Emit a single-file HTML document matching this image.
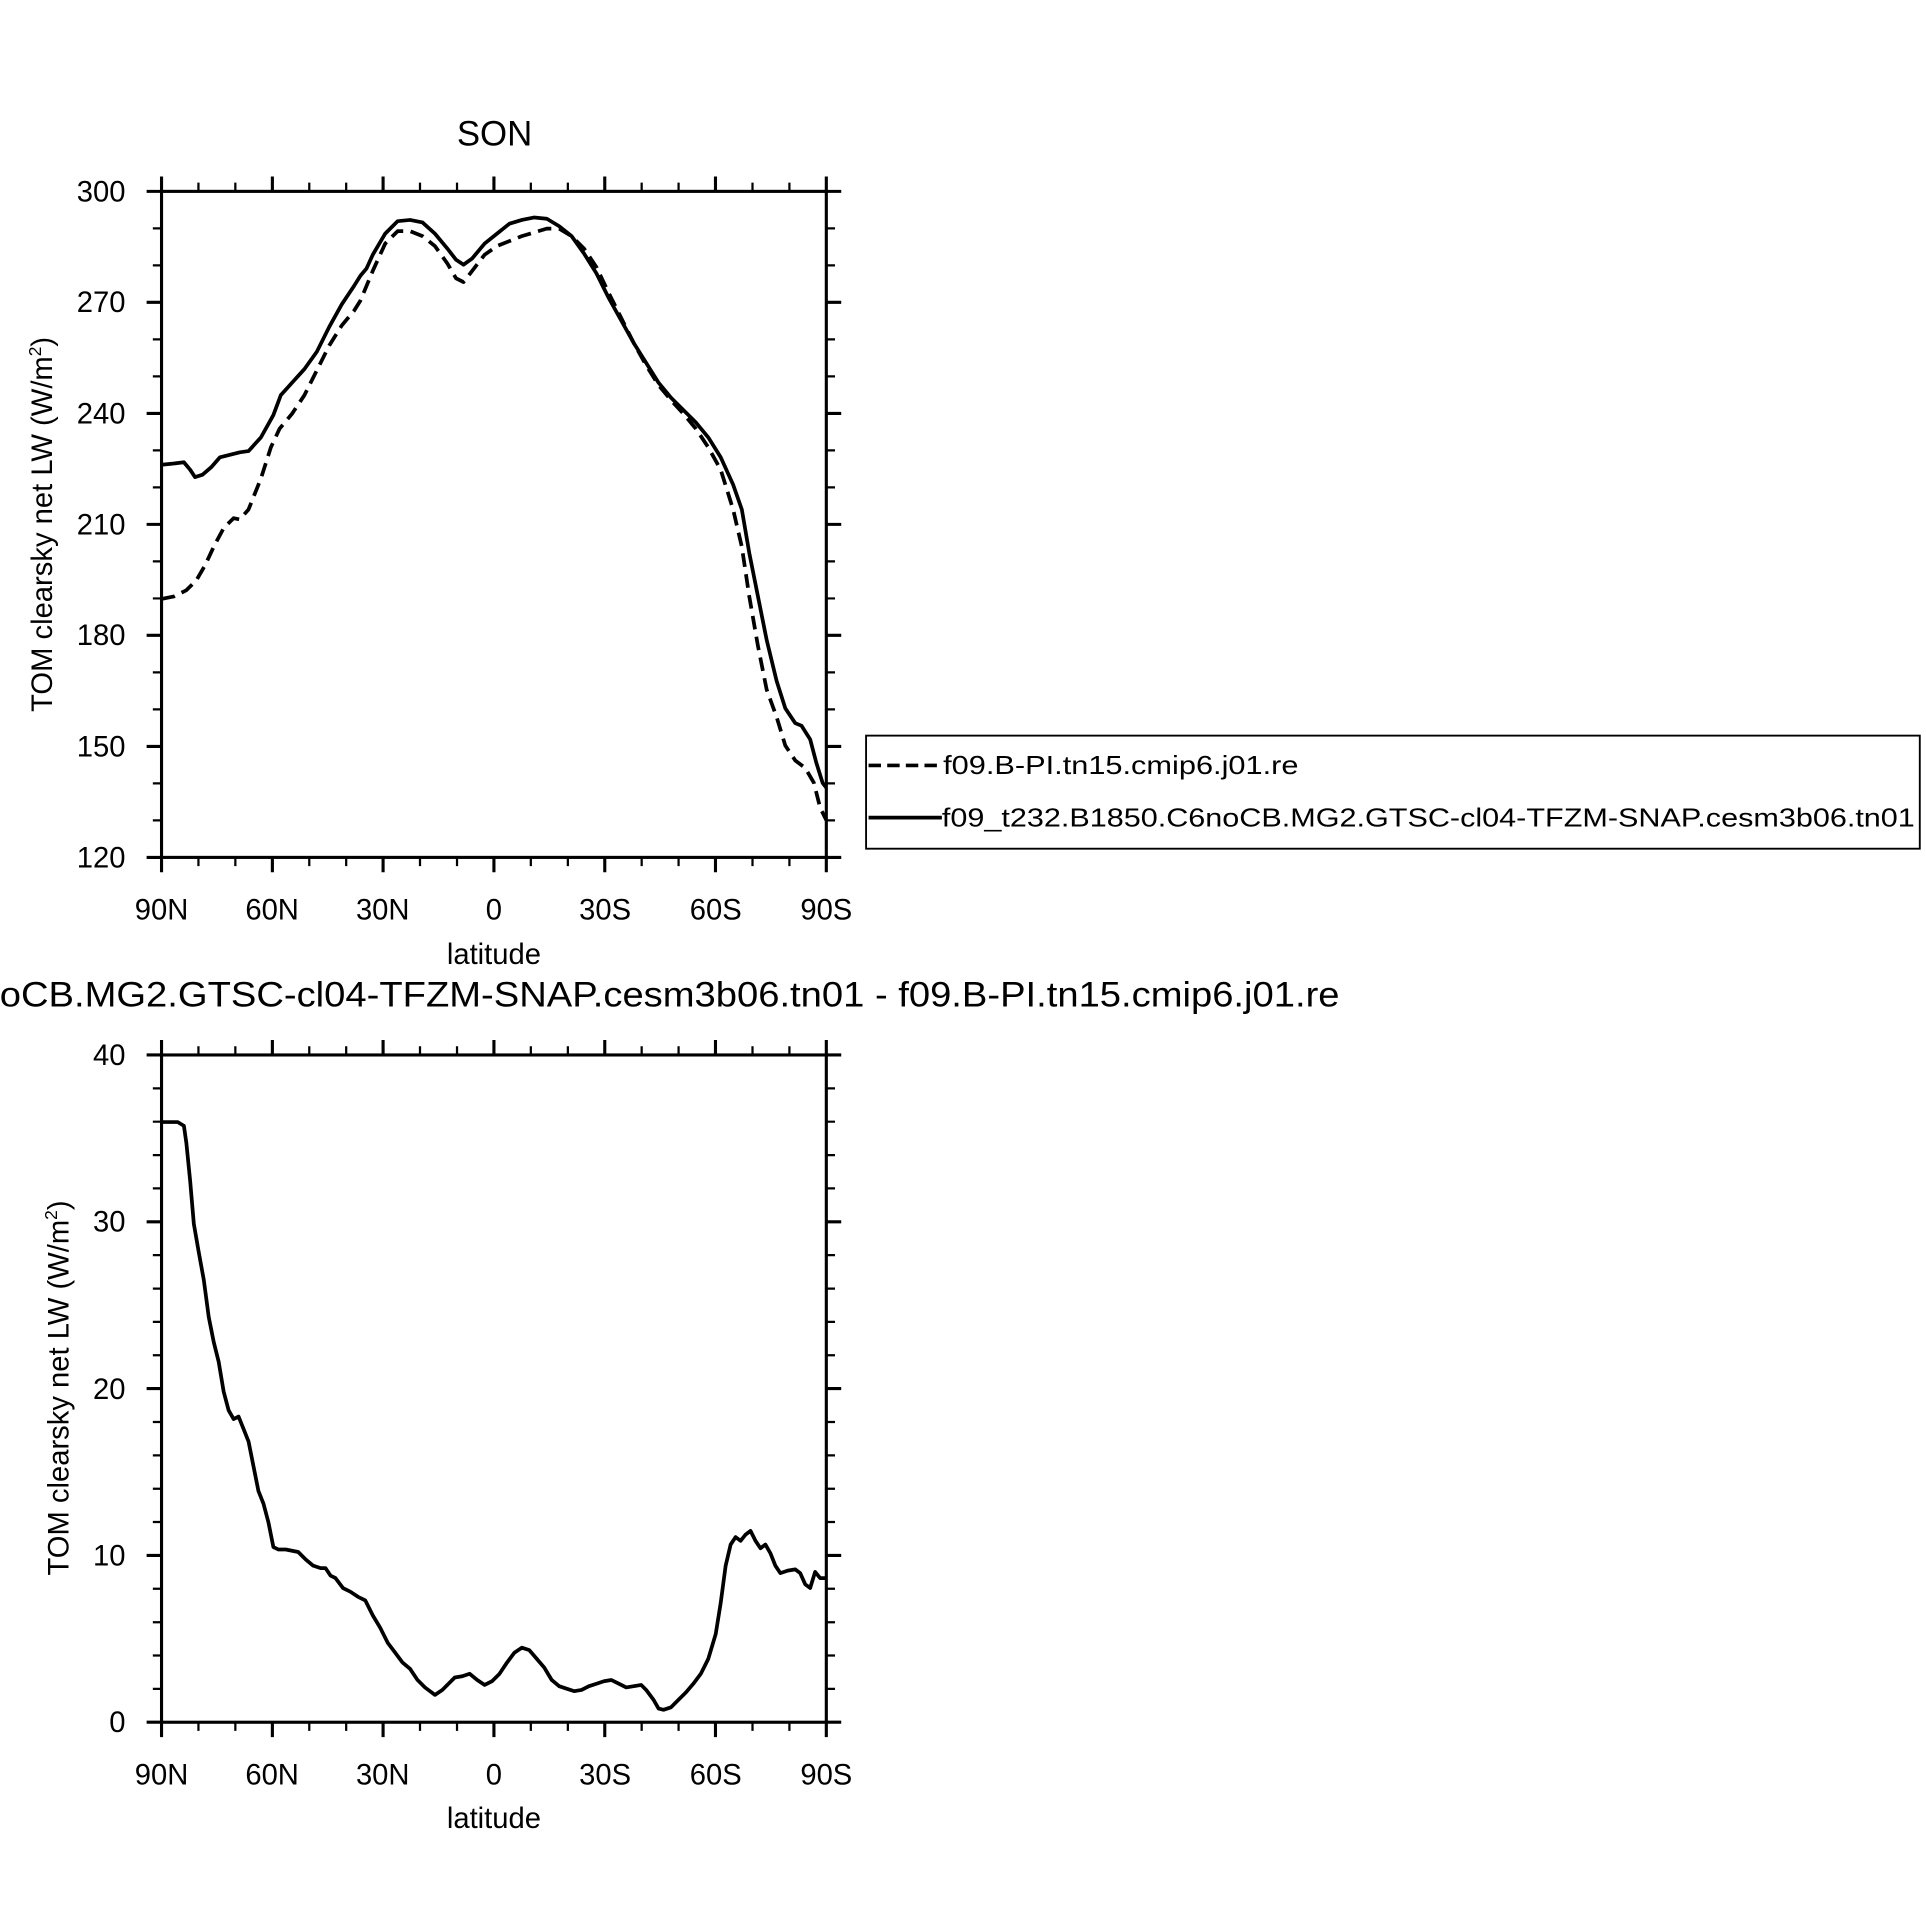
<!DOCTYPE html>
<html><head><meta charset="utf-8"><style>html,body{margin:0;padding:0;background:#fff}svg{display:block}</style></head>
<body>
<svg width="1926" height="1931" viewBox="0 0 1550 1554" xmlns="http://www.w3.org/2000/svg" font-family="Liberation Sans, sans-serif">
<rect width="1550" height="1554" fill="#fff"/>
<g id="ax1" stroke="#000" stroke-width="2.5" fill="none">
<rect x="130" y="154" width="535" height="536"/>
<path d="M130,154v-12M219.2,154v-12M308.3,154v-12M397.5,154v-12M486.7,154v-12M575.8,154v-12M665,154v-12
M130,690v12M219.2,690v12M308.3,690v12M397.5,690v12M486.7,690v12M575.8,690v12M665,690v12
M130,154h-12M130,243.3h-12M130,332.7h-12M130,422h-12M130,511.3h-12M130,600.7h-12M130,690h-12
M665,154h12M665,243.3h12M665,332.7h12M665,422h12M665,511.3h12M665,600.7h12M665,690h12"/>
<path stroke-width="1.8" d="M159.7,154v-7M189.4,154v-7M248.9,154v-7M278.6,154v-7M338,154v-7M367.8,154v-7M427.2,154v-7M457,154v-7M516.4,154v-7M546.1,154v-7M605.6,154v-7M635.3,154v-7
M159.7,690v7M189.4,690v7M248.9,690v7M278.6,690v7M338,690v7M367.8,690v7M427.2,690v7M457,690v7M516.4,690v7M546.1,690v7M605.6,690v7M635.3,690v7
M130,183.8h-7M130,213.6h-7M130,273.1h-7M130,302.9h-7M130,362.4h-7M130,392.2h-7M130,451.8h-7M130,481.6h-7M130,541.1h-7M130,570.9h-7M130,630.4h-7M130,660.2h-7
M665,183.8h7M665,213.6h7M665,273.1h7M665,302.9h7M665,362.4h7M665,392.2h7M665,451.8h7M665,481.6h7M665,541.1h7M665,570.9h7M665,630.4h7M665,660.2h7"/>
</g>
<g font-size="23.5" text-anchor="end">
<text x="101" y="162">300</text><text x="101" y="251">270</text><text x="101" y="341">240</text><text x="101" y="430">210</text><text x="101" y="519">180</text><text x="101" y="609">150</text><text x="101" y="698">120</text>
</g>
<g font-size="23.5" text-anchor="middle">
<text x="130" y="740">90N</text><text x="219" y="740">60N</text><text x="308" y="740">30N</text><text x="397.5" y="740">0</text><text x="487" y="740">30S</text><text x="576" y="740">60S</text><text x="665" y="740">90S</text>
<text x="397.5" y="776">latitude</text>
<text x="398" y="117" font-size="28">SON</text>
</g>
<text x="-282" y="810" font-size="28" textLength="1360" lengthAdjust="spacingAndGlyphs">f09_t232.B1850.C6noCB.MG2.GTSC-cl04-TFZM-SNAP.cesm3b06.tn01 - f09.B-PI.tn15.cmip6.j01.re</text>
<text transform="translate(42,422) rotate(-90)" font-size="23.5" text-anchor="middle">TOM clearsky net LW (W/m<tspan font-size="14" dy="-9">2</tspan><tspan dy="9">)</tspan></text>
<g fill="none" stroke="#000" stroke-width="3" stroke-linejoin="round">
<polyline points="130,374 140,373 148,372 153,378 157,384 163,382 170,376 177,368 185,366 193,364 200,363 210,352 220,334 226,318 235,308 245,297 255,283 265,263 275,245 285,230 290,222 295,216 300,205 310,188 320,178 330,177 340,179 350,188 360,200 367,209 373,213 380,208 390,196 400,188 410,180 420,177 430,175 440,176 450,182 460,190 470,204 480,220 490,240 500,258 510,276 520,292 530,308 540,320 550,330 560,340 570,352 580,368 590,390 597,410 603,445 610,480 617,515 625,548 632,570 640,582 645,584 652,595 657,614 662,630 665,634"/>
<polyline stroke-dasharray="11,6" points="130,482 140,480 150,475 158,467 165,455 172,440 180,425 188,417 193,418 200,410 210,385 218,360 225,345 235,333 245,318 255,298 265,278 275,262 285,250 290,242 300,218 310,196 320,186 330,186 340,190 350,198 360,212 367,224 373,227 380,218 390,205 400,198 410,194 420,190 430,187 440,184 450,184 460,190 470,200 480,215 490,236 500,256 510,276 520,294 530,310 540,322 550,333 560,345 570,360 580,378 590,410 597,440 603,480 610,520 617,555 625,577 632,600 640,612 648,618 655,630 660,650 665,660"/>
</g>
<!-- legend -->
<rect x="697" y="592" width="848" height="91" fill="#fff" stroke="#000" stroke-width="1.5"/>
<line x1="699" y1="616" x2="758" y2="616" stroke="#000" stroke-width="3" stroke-dasharray="10,5"/>
<line x1="699" y1="658" x2="758" y2="658" stroke="#000" stroke-width="3"/>
<text x="759" y="623" font-size="21" textLength="286" lengthAdjust="spacingAndGlyphs">f09.B-PI.tn15.cmip6.j01.re</text>
<text x="758" y="665" font-size="21" textLength="783" lengthAdjust="spacingAndGlyphs">f09_t232.B1850.C6noCB.MG2.GTSC-cl04-TFZM-SNAP.cesm3b06.tn01</text>
<!-- bottom plot -->
<g stroke="#000" stroke-width="2.5" fill="none">
<rect x="130" y="849" width="535" height="537"/>
<path d="M130,849v-12M219.2,849v-12M308.3,849v-12M397.5,849v-12M486.7,849v-12M575.8,849v-12M665,849v-12
M130,1386v12M219.2,1386v12M308.3,1386v12M397.5,1386v12M486.7,1386v12M575.8,1386v12M665,1386v12
M130,849h-12M130,983.3h-12M130,1117.5h-12M130,1251.8h-12M130,1386h-12
M665,849h12M665,983.3h12M665,1117.5h12M665,1251.8h12M665,1386h12"/>
<path stroke-width="1.8" d="M159.7,849v-7M189.4,849v-7M248.9,849v-7M278.6,849v-7M338,849v-7M367.8,849v-7M427.2,849v-7M457,849v-7M516.4,849v-7M546.1,849v-7M605.6,849v-7M635.3,849v-7
M159.7,1386v7M189.4,1386v7M248.9,1386v7M278.6,1386v7M338,1386v7M367.8,1386v7M427.2,1386v7M457,1386v7M516.4,1386v7M546.1,1386v7M605.6,1386v7M635.3,1386v7
M130,875.9h-7M130,902.7h-7M130,929.6h-7M130,956.4h-7M130,1010.1h-7M130,1037h-7M130,1063.8h-7M130,1090.7h-7M130,1144.4h-7M130,1171.2h-7M130,1198.1h-7M130,1224.9h-7M130,1278.6h-7M130,1305.5h-7M130,1332.3h-7M130,1359.2h-7
M665,875.9h7M665,902.7h7M665,929.6h7M665,956.4h7M665,1010.1h7M665,1037h7M665,1063.8h7M665,1090.7h7M665,1144.4h7M665,1171.2h7M665,1198.1h7M665,1224.9h7M665,1278.6h7M665,1305.5h7M665,1332.3h7M665,1359.2h7"/>
</g>
<g font-size="23.5" text-anchor="end">
<text x="101" y="857">40</text><text x="101" y="991">30</text><text x="101" y="1126">20</text><text x="101" y="1260">10</text><text x="101" y="1394">0</text>
</g>
<g font-size="23.5" text-anchor="middle">
<text x="130" y="1436">90N</text><text x="219" y="1436">60N</text><text x="308" y="1436">30N</text><text x="397.5" y="1436">0</text><text x="487" y="1436">30S</text><text x="576" y="1436">60S</text><text x="665" y="1436">90S</text>
<text x="397.5" y="1471">latitude</text>
</g>
<text transform="translate(55,1117) rotate(-90)" font-size="23.5" text-anchor="middle">TOM clearsky net LW (W/m<tspan font-size="14" dy="-9">2</tspan><tspan dy="9">)</tspan></text>
<polyline fill="none" stroke="#000" stroke-width="3" stroke-linejoin="round" points="130,903 143,903 148,906 150,920 153,950 156,985 160,1008 164,1030 168,1060 172,1080 176,1096 180,1120 184,1135 188,1142 192,1140 196,1150 200,1160 204,1180 208,1200 212,1210 216,1225 220,1245 224,1247 230,1247 240,1249 246,1255 252,1260 258,1262 262,1262 266,1268 270,1270 276,1278 282,1281 288,1285 294,1288 300,1300 306,1310 312,1322 318,1330 324,1338 330,1343 336,1352 342,1358 350,1364 356,1360 362,1354 366,1350 372,1349 378,1347 384,1352 390,1356 396,1353 402,1347 408,1338 414,1330 420,1326 426,1328 432,1335 438,1342 444,1352 450,1357 456,1359 462,1361 468,1360 474,1357 480,1355 486,1353 492,1352 498,1355 504,1358 510,1357 516,1356 520,1360 526,1368 530,1375 534,1376 540,1374 546,1368 552,1362 558,1355 564,1347 570,1335 576,1315 580,1290 584,1260 588,1243 592,1237 596,1240 600,1235 604,1232 608,1240 612,1246 616,1243 620,1250 624,1260 628,1266 634,1264 640,1263 644,1266 648,1275 652,1278 656,1265 660,1270 665,1270"/>
</svg>
</body></html>
